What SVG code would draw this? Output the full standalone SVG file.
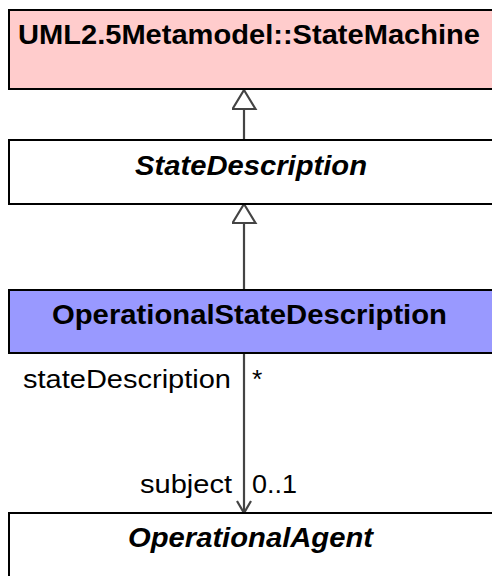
<svg xmlns="http://www.w3.org/2000/svg" width="492" height="576" viewBox="0 0 492 576">
<style>
.box{stroke:#000;stroke-width:2}
.t{font-family:"Liberation Sans",Arial,sans-serif;font-weight:bold;font-size:28px;fill:#000}
.i{font-style:italic}
.l{font-family:"Liberation Sans",Arial,sans-serif;font-size:26.5px;fill:#000}
.c{stroke:#444;stroke-width:2.2;fill:none}
</style>
<defs>
<marker id="gen" markerWidth="26" markerHeight="26" refX="22" refY="12" orient="auto" markerUnits="userSpaceOnUse">
<path d="M22,12 L3,0.5 L3,23.5 Z" fill="#fff" stroke="#444" stroke-width="2.2"/>
</marker>
<marker id="open" markerWidth="16" markerHeight="18" refX="13" refY="8" orient="auto" markerUnits="userSpaceOnUse">
<path d="M1,1 L13,8 L1,15" fill="none" stroke="#444" stroke-width="2.2"/>
</marker>
</defs>
<g id="connectors">
<line class="c" x1="244" y1="140" x2="244" y2="90" marker-end="url(#gen)"/>
<line class="c" x1="244" y1="290" x2="244" y2="204" marker-end="url(#gen)"/>
<line class="c" x1="244" y1="353" x2="244" y2="513" marker-end="url(#open)"/>
<text class="l" x="23" y="388" textLength="208" lengthAdjust="spacingAndGlyphs">stateDescription</text>
<text class="l" x="252" y="388">*</text>
<text class="l" x="140" y="493" textLength="92" lengthAdjust="spacingAndGlyphs">subject</text>
<text class="l" x="252" y="493" textLength="45" lengthAdjust="spacingAndGlyphs">0..1</text>
</g>
<g id="StateMachine">
<rect class="box" x="9" y="10" width="490" height="79" fill="#FFCCCC"/>
<text class="t" x="18" y="44" textLength="462" lengthAdjust="spacingAndGlyphs">UML2.5Metamodel::StateMachine</text>
</g>
<g id="StateDescription">
<rect class="box" x="9" y="140" width="490" height="64" fill="#FFFFFF"/>
<text class="t i" x="135" y="175" textLength="232" lengthAdjust="spacingAndGlyphs">StateDescription</text>
</g>
<g id="OperationalStateDescription">
<rect class="box" x="9" y="290" width="490" height="63" fill="#9999FF"/>
<text class="t" x="52" y="324" textLength="395" lengthAdjust="spacingAndGlyphs">OperationalStateDescription</text>
</g>
<g id="OperationalAgent">
<rect class="box" x="9" y="513" width="490" height="80" fill="#FFFFFF"/>
<text class="t i" x="128" y="547" textLength="245" lengthAdjust="spacingAndGlyphs">OperationalAgent</text>
</g>
</svg>
